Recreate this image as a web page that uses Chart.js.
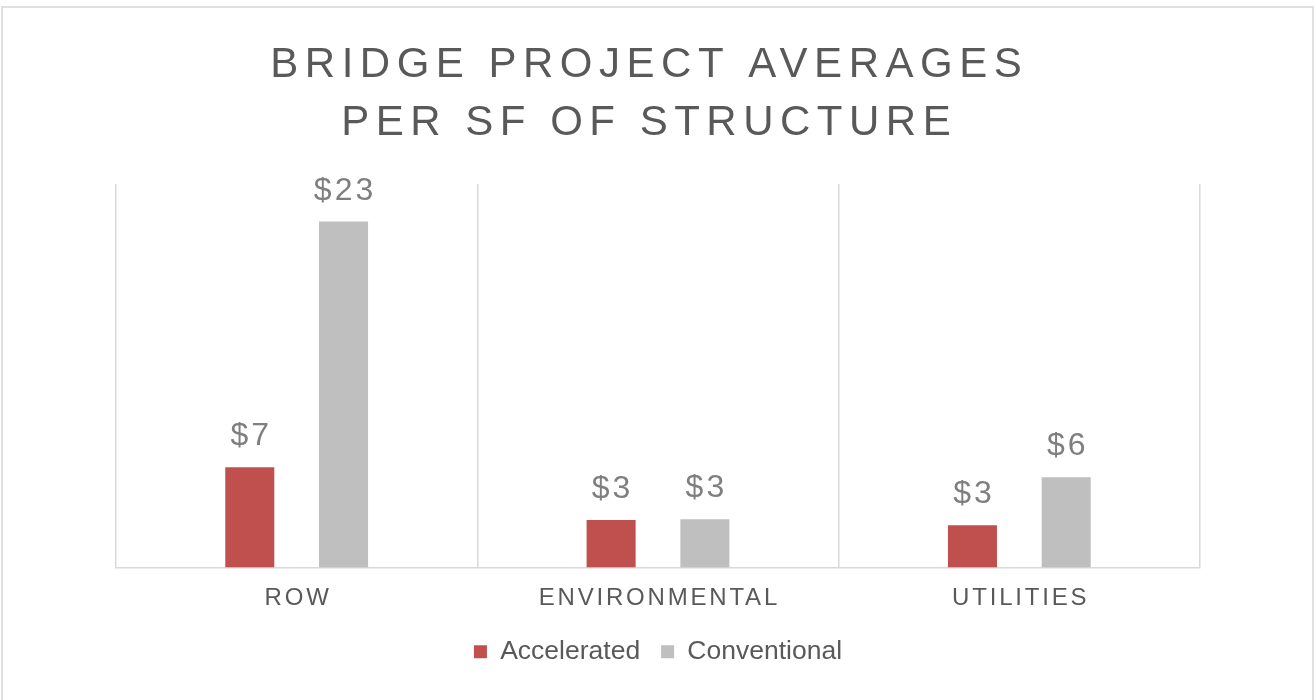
<!DOCTYPE html>
<html lang="en">
<head>
<meta charset="UTF-8">
<title>Bridge Project Averages per SF of Structure</title>
<script src="https://cdn.jsdelivr.net/npm/chart.js@4.4.1/dist/chart.umd.min.js"></script>
<style>
    html, body { margin: 0; padding: 0; background: #fff; }
    .chart-box { position: relative; width: 1316px; height: 700px; overflow: hidden; }
    .frame {
        position: absolute; left: 1px; top: 6px; width: 1313px; height: 720px;
        box-sizing: border-box; border: 2px solid #e0e0e0; pointer-events: none;
    }
</style>
</head>
<body>
<div class="chart-box">
    <canvas id="bridge-chart"></canvas>
    <div class="frame"></div>
</div>
<script>
// chart data
const TITLE_LINES = ['BRIDGE PROJECT AVERAGES', 'PER SF OF STRUCTURE'];
const CATEGORIES = ['ROW', 'ENVIRONMENTAL', 'UTILITIES'];
const SERIES_NAMES = ['Accelerated', 'Conventional'];
const ACCELERATED = [6.53, 3.10, 2.76];
const CONVENTIONAL = [22.55, 3.15, 5.89];
const Y_MAX = 25;

// colours
const COLORS = {
    accelerated: '#c0504d',
    conventional: '#bfbfbf',
    title: '#595959',
    label: '#7f7f7f',
    grid: '#d9d9d9'
};
const FONT = '"Liberation Sans", Arial, sans-serif';

// draw letter-spaced text centred on cx (canvas adds spacing after the last glyph too)
function drawSpacedText(ctx, text, cx, y, spacing) {
    ctx.letterSpacing = spacing + 'px';
    const w = ctx.measureText(text).width - spacing;
    ctx.textAlign = 'left';
    ctx.fillText(text, cx - w / 2, y);
}

// title, category labels and value labels, all letter-spaced like the original
const spacedTextPlugin = {
    id: 'spacedText',
    afterDraw(chart) {
        const ctx = chart.ctx;
        const xScale = chart.scales.x;
        ctx.save();
        ctx.textBaseline = 'alphabetic';

        // title
        ctx.fillStyle = COLORS.title;
        ctx.font = `42px ${FONT}`;
        TITLE_LINES.forEach((line, i) => {
            drawSpacedText(ctx, line, 646, 77 + i * 58, 6.5);
        });

        // category labels
        ctx.font = `24px ${FONT}`;
        chart.data.labels.forEach((label, i) => {
            drawSpacedText(ctx, label, xScale.getPixelForTick(i), chart.chartArea.bottom + 37, 2.8);
        });

        // value labels above bars
        ctx.fillStyle = COLORS.label;
        ctx.font = `32px ${FONT}`;
        chart.data.datasets.forEach((ds, di) => {
            chart.getDatasetMeta(di).data.forEach((bar, i) => {
                drawSpacedText(ctx, '$' + Math.round(ds.data[i]), bar.x, bar.y - 22, 3);
            });
        });

        ctx.restore();
    }
};

// render chart
function renderChart() {
    const ctx = document.getElementById('bridge-chart').getContext('2d');
    return new Chart(ctx, {
        type: 'bar',
        data: {
            labels: CATEGORIES,
            datasets: [
                {
                    label: SERIES_NAMES[0],
                    data: ACCELERATED,
                    backgroundColor: COLORS.accelerated,
                    categoryPercentage: 0.519,
                    barPercentage: 0.523
                },
                {
                    label: SERIES_NAMES[1],
                    data: CONVENTIONAL,
                    backgroundColor: COLORS.conventional,
                    categoryPercentage: 0.519,
                    barPercentage: 0.523
                }
            ]
        },
        options: {
            responsive: true,
            maintainAspectRatio: false,
            animation: false,
            layout: {
                padding: { top: 184, left: 116, right: 116, bottom: 25 }
            },
            plugins: {
                title: { display: false },
                tooltip: { enabled: false },
                legend: {
                    display: true,
                    position: 'bottom',
                    labels: {
                        boxWidth: 13,
                        boxHeight: 13,
                        padding: 21,
                        color: COLORS.title,
                        font: { family: FONT, size: 26.5 }
                    }
                }
            },
            scales: {
                x: {
                    grid: {
                        offset: true,
                        color: COLORS.grid,
                        lineWidth: 1.5,
                        drawTicks: false
                    },
                    border: { color: COLORS.grid, width: 1.5 },
                    ticks: { display: false },
                    afterFit: (scale) => { scale.height = 50; }
                },
                y: {
                    display: false,
                    min: 0,
                    max: Y_MAX
                }
            }
        },
        plugins: [spacedTextPlugin]
    });
}

document.addEventListener('DOMContentLoaded', renderChart);
</script>
</body>
</html>
